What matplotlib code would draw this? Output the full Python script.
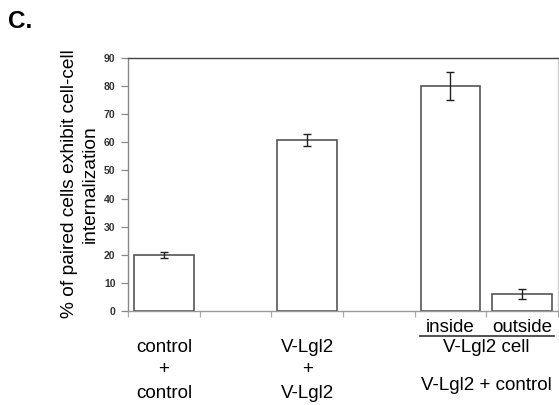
import numpy as np
import matplotlib
matplotlib.use("Agg")
import matplotlib.pyplot as plt
from matplotlib.transforms import blended_transform_factory

# ---- data ----
slots = ["control + control", "", "V-Lgl2 + V-Lgl2", "", "inside", "outside"]
values = [20.0, np.nan, 60.8, np.nan, 80.0, 6.0]
errors = [1.0, np.nan, 2.1, np.nan, 5.0, 1.9]
yticks = [0, 10, 20, 30, 40, 50, 60, 70, 80, 90]
group_labels = [["control", "+", "control"], ["V-Lgl2", "+", "V-Lgl2"]]
ylabel = "% of paired cells exhibit cell-cell\ninternalization"

plt.rcParams['font.family'] = ['Liberation Sans', 'DejaVu Sans']

W, H = 559, 405
fig = plt.figure(figsize=(W / 100, H / 100), dpi=100)
ax = fig.add_axes([128 / W, 1 - 311 / H, 430 / W, 253 / H])

x = np.arange(len(slots)) + 0.5
ax.bar(x, values, width=0.83, facecolor='white', edgecolor='#555555', linewidth=1.2, zorder=2)
ax.errorbar(x, values, yerr=errors, fmt='none', ecolor='#222222', elinewidth=1.0,
            capsize=3, capthick=1.0, zorder=3)

ax.set_xlim(0, len(slots))
ax.set_ylim(0, 90)
ax.set_yticks(yticks)
ax.set_yticklabels([str(v) for v in yticks], fontsize=7.5, fontweight='bold', color='#333333')
ax.set_xticks(np.arange(len(slots) + 1))
ax.set_xticklabels([])
ax.tick_params(axis='y', direction='out', length=5, width=0.9, color='#888888', pad=4)
ax.tick_params(axis='x', direction='out', length=4, width=0.9, color='#aaaaaa')

ax.spines['left'].set_color('#888888')
ax.spines['bottom'].set_color('#999999')
ax.spines['top'].set_color('#444444')
ax.spines['right'].set_color('#d0d0d0')
for s in ax.spines.values():
    s.set_linewidth(1.0)

trans = blended_transform_factory(ax.transData, fig.transFigure)
def fy(py):
    return 1 - py / H

fs = 13.5
for xi, lines in zip([x[0], x[2]], group_labels):
    for py, t in zip([347, 370, 393], lines):
        ax.text(xi, fy(py), t, transform=trans, ha='center', va='center', fontsize=fs, clip_on=False)

ax.text(x[4], fy(327), slots[4], transform=trans, ha='center', va='center', fontsize=fs)
ax.text(x[5], fy(327), slots[5], transform=trans, ha='center', va='center', fontsize=fs)
ax.plot([4.08, 5.95], [fy(336), fy(336)], transform=trans, color='#333333', lw=1.2, clip_on=False)
ax.text((x[4] + x[5]) / 2, fy(348), "V-Lgl2 cell", transform=trans, ha='center', va='center', fontsize=fs)
ax.text((x[4] + x[5]) / 2, fy(385), "V-Lgl2 + control", transform=trans, ha='center', va='center', fontsize=fs)

fig.text(80 / W, fy(184), ylabel, rotation=90, ha='center', va='center',
         multialignment='center', fontsize=13.8, linespacing=1.3)

fig.text(8 / W, fy(21), "C.", ha='left', va='center', fontsize=17.5, fontweight='bold')

fig.savefig("out.png", dpi=100)
